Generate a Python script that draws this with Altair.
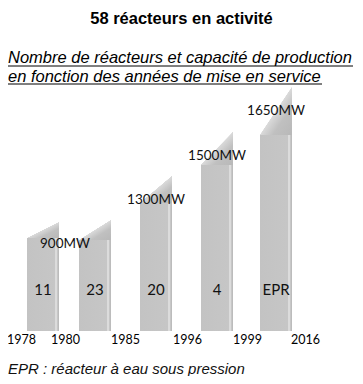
import altair as alt
import pandas as pd

# ---- data ----
years = [1978, 1980, 1985, 1996, 1999, 2016]          # period boundaries (axis labels)
reactor_labels = ["11", "23", "20", "4", "EPR"]       # reactors per period
capacity_mw = [900, 900, 1300, 1500, 1650]            # unit capacity per period
front_height = [93, 91, 128, 166, 196]                # height at left edge of each bar
top_height = [109, 111, 155, 199, 244]                # height at right edge of each bar

title_text = "58 réacteurs en activité"
subtitle_lines = ["Nombre de réacteurs et capacité de production",
                  "en fonction des années de mise en service"]
footnote_text = "EPR : réacteur à eau sous pression"

# ---- tables ----
periods = pd.DataFrame({
    "start": years[:-1],
    "end": years[1:],
    "label": reactor_labels,
    "mw": capacity_mw,
    "front": front_height,
    "top": top_height,
})
periods["mid"] = (periods["start"] + periods["end"]) / 2

rows = []
for mw in dict.fromkeys(capacity_mw):
    sub = periods[periods["mw"] == mw]
    bounds = sorted(set(sub["start"]).union(sub["end"]))
    rows.append({"text": f"{mw}MW", "x": float(pd.Series(bounds).median()), "y": float(sub["top"].max())})
mw_labels = pd.DataFrame(rows)

# ---- scales ----
W, H = 347, 323
xscale = alt.Scale(domain=years, range=[13, 57, 117, 179, 239, 297], zero=False, nice=False, padding=0)
yscale = alt.Scale(domain=[0, H], zero=False, nice=False, padding=0)
xaxis = alt.Axis(values=years, format="d", title=None, domain=False, ticks=False, grid=False,
                 labelFont="Lato", labelFontSize=12.5, labelColor="#000000", labelPadding=2,
                 labelOverlap=False, labelFlush=False)

front_grad = alt.Gradient(
    gradient="linear", x1=0, y1=0, x2=1, y2=0,
    stops=[alt.GradientStop(color="#c3c3c3", offset=0),
           alt.GradientStop(color="#c6c6c6", offset=0.86),
           alt.GradientStop(color="#dcdcdc", offset=0.89),
           alt.GradientStop(color="#dcdcdc", offset=0.94),
           alt.GradientStop(color="#bcbcbc", offset=0.96),
           alt.GradientStop(color="#bcbcbc", offset=1)])
cap_grad = alt.Gradient(
    gradient="linear", x1=0, y1=0, x2=1, y2=1,
    stops=[alt.GradientStop(color="rgba(255,255,255,0)", offset=0),
           alt.GradientStop(color="rgba(255,255,255,0)", offset=0.49),
           alt.GradientStop(color="#dadada", offset=0.5),
           alt.GradientStop(color="#c0c0c0", offset=0.7),
           alt.GradientStop(color="#b8b8b8", offset=1)])

base = alt.Chart(periods)

front = base.mark_bar(size=32, color=front_grad).encode(
    x=alt.X("mid:Q", scale=xscale, axis=xaxis),
    y=alt.Y("front:Q", scale=yscale, axis=None),
    y2=alt.datum(0),
)
cap = base.mark_bar(size=32, color=cap_grad).encode(
    x=alt.X("mid:Q", scale=xscale, axis=xaxis),
    y=alt.Y("top:Q", scale=yscale, axis=None),
    y2="front:Q",
)
inside = base.mark_text(font="Lato", fontSize=15, color="#111111", baseline="middle").encode(
    x=alt.X("mid:Q", scale=xscale, axis=xaxis),
    y=alt.value(282),
    text="label:N",
)
mw = alt.Chart(mw_labels).mark_text(font="Lato", fontSize=13.5, color="#111111",
                                      baseline="middle", dy=24).encode(
    x=alt.X("x:Q", scale=xscale, axis=xaxis),
    y=alt.Y("y:Q", scale=yscale, axis=None),
    text="text:N",
)

one = pd.DataFrame({"k": [0]})
title = alt.Chart(one).mark_text(font="Liberation Sans", fontSize=16.5, fontWeight="bold",
                                 align="center", baseline="alphabetic", color="#000000",
                                 text=title_text).encode(x=alt.value(173.5), y=alt.value(15.5))
sub1 = alt.Chart(one).mark_text(font="Liberation Sans", fontSize=16.5, fontStyle="italic",
                                align="left", baseline="alphabetic", color="#000000",
                                text=subtitle_lines[0]).encode(x=alt.value(0), y=alt.value(55.3))
sub2 = alt.Chart(one).mark_text(font="Liberation Sans", fontSize=16.5, fontStyle="italic",
                                align="left", baseline="alphabetic", color="#000000",
                                text=subtitle_lines[1]).encode(x=alt.value(0), y=alt.value(73.7))
ul1 = alt.Chart(one).mark_rule(color="#000000", strokeWidth=1).encode(
    x=alt.value(0), x2=alt.value(345), y=alt.value(58))
ul2 = alt.Chart(one).mark_rule(color="#000000", strokeWidth=1).encode(
    x=alt.value(0), x2=alt.value(314), y=alt.value(76))
foot = alt.Chart(one).mark_text(font="Liberation Sans", fontSize=15, fontStyle="italic",
                                align="left", baseline="alphabetic", color="#111111",
                                text=footnote_text).encode(x=alt.value(0), y=alt.value(366))

chart = alt.layer(front, cap, inside, mw, title, sub1, sub2, ul1, ul2, foot).properties(
    width=W, height=H,
    padding={"left": 0, "top": 0, "right": 0, "bottom": 45},
    autosize=alt.AutoSizeParams(type="none"),
    background="#ffffff",
).configure_view(stroke=None)

chart.save("out.html", embed_options={"renderer": "svg", "actions": False})
